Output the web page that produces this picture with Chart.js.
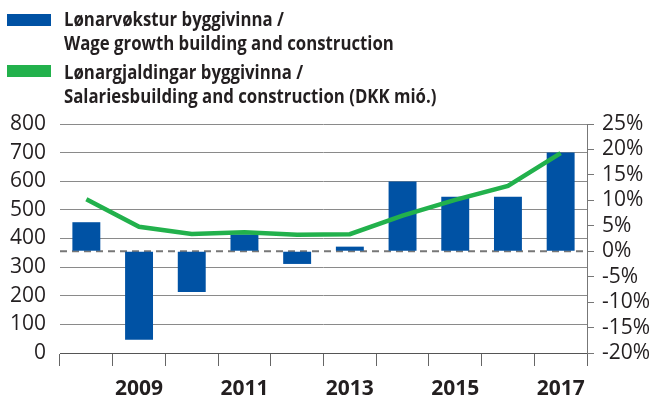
<!DOCTYPE html>
<html><head><meta charset="utf-8">
<script src="https://cdn.jsdelivr.net/npm/chart.js@4"></script>
<style>
html,body{margin:0;padding:0;background:#fff;}
#wrap{position:relative;width:649px;height:403px;overflow:hidden;}
canvas{position:absolute;left:0;top:0;}
.leg{position:absolute;left:0;top:0;font-family:'Open Sans',sans-serif;font-weight:700;font-size:19.5px;line-height:24px;color:#231f20;}
.sw{position:absolute;left:7px;width:44px;height:12px;}
.txt{position:absolute;left:64px;white-space:nowrap;transform:scaleX(0.86);transform-origin:0 0;}
</style></head>
<body>
<div id="wrap">
<canvas id="c" width="649" height="403"></canvas>
<div class="leg">
  <div class="sw" style="top:14px;background:#0052a4"></div>
  <div class="txt" style="top:7px">Lønarvøkstur byggivinna /<br>Wage growth building and construction</div>
  <div class="sw" style="top:65px;background:#22b14c"></div>
  <div class="txt" style="top:60px">Lønargjaldingar byggivinna /<br>Salariesbuilding and construction (DKK mió.)</div>
</div>
</div>
<script>
const years = ['2008','2009','2010','2011','2012','2013','2014','2015','2016','2017'];
const wageGrowth = [5.7,-17.4,-8.0,3.3,-2.5,0.9,13.7,10.7,10.7,19.4];
const salaries = [537,441,416,422,413,415,480,535,584,698];
const shownYears = ['2009','2011','2013','2015','2017'];

const FONT = "'Open Sans', sans-serif";
const TXT = '#231f20';

const zeroLine = {
  id:'zeroLine',
  beforeDatasetsDraw(chart){
    const {ctx, chartArea:a, scales} = chart;
    const y = scales.y1.getPixelForValue(0);
    ctx.save();
    ctx.strokeStyle = '#777';
    ctx.lineWidth = 2;
    ctx.setLineDash([7,5]);
    ctx.beginPath();
    ctx.moveTo(a.left, y);
    ctx.lineTo(a.right, y);
    ctx.stroke();
    ctx.restore();
  }
};

new Chart(document.getElementById('c'), {
  data: {
    labels: years,
    datasets: [
      {type:'line', label:'Salaries', data:salaries, yAxisID:'y', borderColor:'#22b14c', borderWidth:4.5, pointRadius:0, tension:0, fill:false, order:1},
      {type:'bar', label:'Wage growth', data:wageGrowth, yAxisID:'y1', backgroundColor:'#0052a4', borderWidth:0, categoryPercentage:1, barPercentage:0.53, order:2}
    ]
  },
  options: {
    responsive:false,
    animation:false,
    devicePixelRatio:1,
    layout:{padding:{top:124,left:0,right:0,bottom:0}},
    plugins:{legend:{display:false}, tooltip:{enabled:false}},
    scales:{
      x:{
        offset:true,
        grid:{offset:true, drawOnChartArea:false, drawTicks:true, tickLength:13, color:'#666', lineWidth:1},
        border:{display:true, color:'#555', width:1},
        ticks:{autoSkip:false, maxRotation:0, padding:10, color:TXT, font:{family:FONT, size:21, weight:'bold'},
          callback:function(v,i){ const l = years[i]; return shownYears.includes(l) ? l : ''; }},
        afterFit(s){ s.height = 50; }
      },
      y:{
        position:'left', min:0, max:800,
        ticks:{stepSize:100, autoSkip:false, padding:14, color:TXT, font:{family:FONT, size:21}},
        grid:{color:'#8a8a8a', lineWidth:1, drawTicks:false},
        border:{display:false},
        afterFit(s){ s.width = 60; }
      },
      y1:{
        position:'right', min:-20, max:25,
        ticks:{stepSize:5, autoSkip:false, padding:8, color:TXT, font:{family:FONT, size:21}, callback:v=>v+'%'},
        grid:{drawOnChartArea:false, drawTicks:true, tickLength:7, color:'#777'},
        border:{display:true, color:'#777', width:1},
        afterFit(s){ s.width = 62; }
      }
    }
  },
  plugins:[zeroLine]
});
</script>
</body></html>
